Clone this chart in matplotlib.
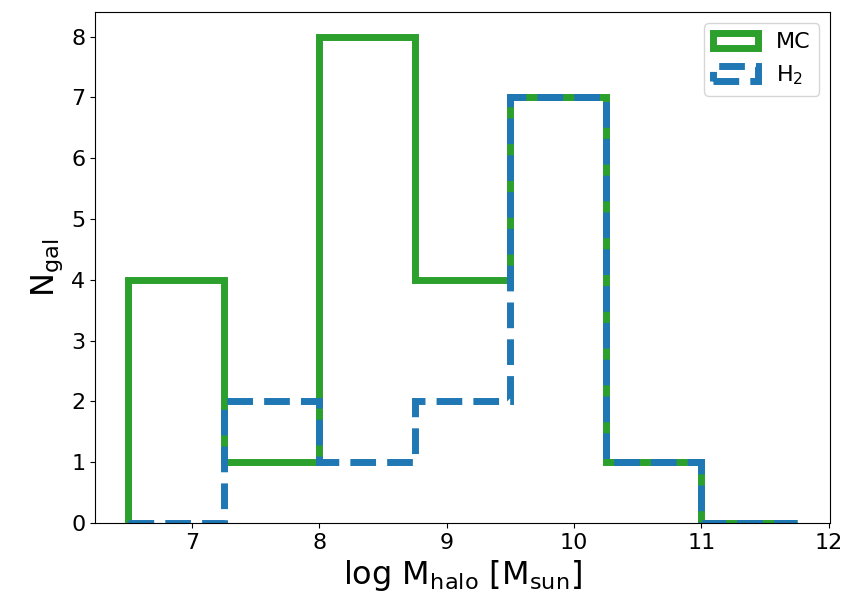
import matplotlib
matplotlib.use('Agg')
import matplotlib.pyplot as plt
import numpy as np

# bin edges in log halo mass and counts per bin
bin_edges = [6.5, 7.25, 8.0, 8.75, 9.5, 10.25, 11.0, 11.75]
mc_counts = [4, 1, 8, 4, 7, 1, 0]
h2_counts = [0, 2, 1, 2, 7, 1, 0]

centers = (np.array(bin_edges[:-1]) + np.array(bin_edges[1:])) / 2

fig = plt.figure(figsize=(8.48, 6.09), dpi=100)
ax = fig.add_axes([0.112, 0.141, 0.867, 0.839])

ax.hist(centers, bins=bin_edges, weights=mc_counts, histtype='step',
        color='tab:green', linewidth=5, label='MC')
ax.hist(centers, bins=bin_edges, weights=h2_counts, histtype='step',
        color='tab:blue', linewidth=5, linestyle='--', label=r'H$_2$')

ax.set_xlabel(r'log M$_{\rm halo}$ [M$_{\rm sun}$]', fontsize=23)
ax.set_ylabel(r'N$_{\rm gal}$', fontsize=23)
ax.tick_params(labelsize=16)
ax.legend(loc='upper right', fontsize=16)

fig.savefig('out.png', dpi=100)
